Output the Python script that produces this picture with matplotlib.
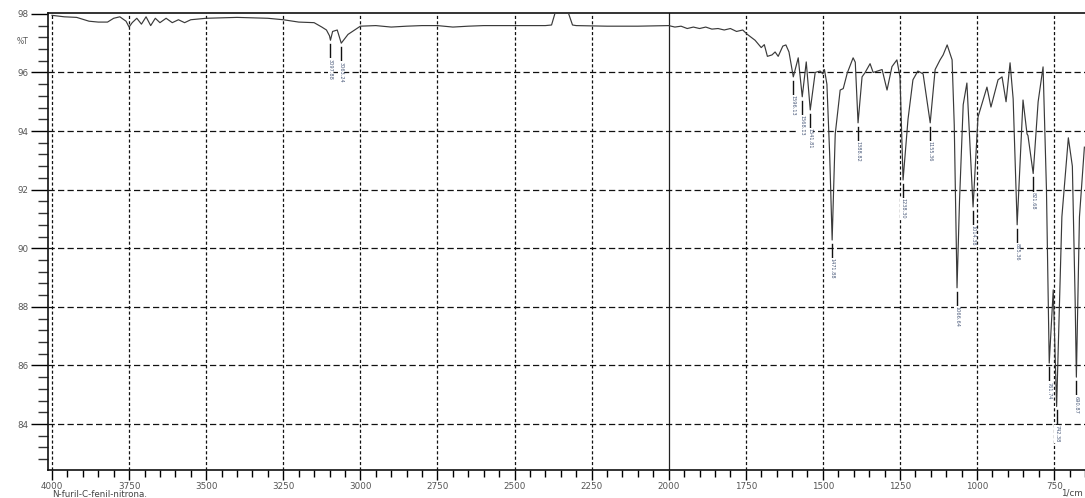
import matplotlib
matplotlib.use("Agg")
import matplotlib.pyplot as plt

# ---- spectrum data (wavenumber 1/cm, %T) ----
wavenumber = [4000, 3960, 3920, 3880, 3850, 3820, 3800, 3780, 3760, 3750, 3740, 3725,
              3710, 3695, 3680, 3665, 3650, 3630, 3610, 3590, 3570, 3550, 3530, 3500,
              3400, 3300, 3250, 3200, 3150, 3125, 3110, 3100, 3097, 3090, 3075, 3062,
              3040, 3000, 2950, 2900, 2850, 2800, 2750, 2700, 2650, 2600, 2500, 2400,
              2380, 2368, 2326, 2312, 2300, 2200, 2100, 2000, 1980, 1960, 1940, 1920,
              1900, 1880, 1860, 1840, 1820, 1800, 1780, 1760, 1745, 1720, 1700, 1690,
              1680, 1665, 1655, 1645, 1630, 1620, 1610, 1596, 1580, 1567, 1554, 1541,
              1525, 1509, 1500, 1495, 1487, 1478, 1470, 1464, 1460, 1444, 1434, 1421, 1402, 1395,
              1386, 1373, 1363, 1347, 1337, 1308, 1292, 1276, 1260, 1250, 1240, 1224,
              1208, 1192, 1175, 1152, 1136, 1120, 1110, 1097, 1081, 1074, 1065, 1057, 1045, 1033, 1013,
              997, 968, 955, 932, 919, 906, 893, 883, 870, 851, 838, 835, 818, 802,
              786, 775, 766, 753, 742, 725, 704, 691, 682, 678, 668, 652]
transmittance = [97.95, 97.9, 97.88, 97.75, 97.72, 97.72, 97.85, 97.9, 97.75, 97.55, 97.7, 97.85,
                 97.65, 97.9, 97.6, 97.85, 97.7, 97.85, 97.7, 97.8, 97.7, 97.8, 97.82, 97.85,
                 97.88, 97.85, 97.8, 97.72, 97.7, 97.55, 97.45, 97.25, 97.1, 97.4, 97.45, 97.0,
                 97.3, 97.58, 97.6, 97.55, 97.58, 97.6, 97.6, 97.55, 97.58, 97.6, 97.6, 97.6,
                 97.62, 98.05, 98.05, 97.62, 97.6, 97.58, 97.58, 97.6, 97.55, 97.58, 97.5, 97.55,
                 97.5, 97.55, 97.48, 97.5, 97.45, 97.5, 97.4, 97.45, 97.3, 97.1, 96.85, 96.95,
                 96.55, 96.6, 96.7, 96.55, 96.9, 96.94, 96.7, 95.85, 96.5, 95.17, 96.36, 94.72,
                 96.0, 96.05, 95.95, 96.1, 95.6, 93.2, 90.28, 92.4, 93.9, 95.4, 95.45, 95.98, 96.5, 96.35,
                 94.28, 95.85, 96.0, 96.3, 96.0, 96.1, 95.4, 96.2, 96.43, 95.85, 92.33, 94.4,
                 95.75, 96.05, 95.95, 94.28, 96.1, 96.43, 96.6, 96.94, 96.43, 94.2, 88.65, 91.6, 94.9, 95.64, 91.41,
                 94.48, 95.5, 94.82, 95.75, 95.85, 95.0, 96.33, 95.1, 90.8, 95.06, 93.9, 93.85, 92.55, 95.0,
                 96.19, 92.0, 86.08, 88.58, 84.6, 91.07, 93.77, 92.8, 88.24, 85.6, 91.07, 93.45]

# ---- labelled peaks ----
peak_wn = [3097, 3062, 1596, 1567, 1541, 1470, 1386, 1240, 1152, 1065, 1013, 870, 818, 766, 742, 678]
peak_t = [97.1, 97.0, 95.85, 95.17, 94.72, 90.28, 94.28, 92.33, 94.28, 88.65, 91.41, 90.8, 92.55, 86.08, 84.6, 85.6]
peak_labels = ["3097.88", "3063.24", "1596.13", "1568.13", "1541.81", "1471.88", "1388.82",
               "1238.30", "1155.36", "1066.64", "1014.38", "885.36", "821.68", "761.74",
               "742.38", "690.87"]

x_major = [4000, 3750, 3500, 3250, 3000, 2750, 2500, 2250, 2000, 1750, 1500, 1250, 1000, 750]
y_major = [84, 86, 88, 90, 92, 94, 96, 98]

W, H = 1085, 498
fig = plt.figure(figsize=(W / 100, H / 100), dpi=100)
left_px, right_px, top_px, bot_px = 48, 1085, 13, 470
ax = fig.add_axes([left_px / W, (H - bot_px) / H, (right_px - left_px) / W, (bot_px - top_px) / H])
ax.set_xlim(4013, 650)
ax.set_ylim(82.43, 98.03)

# grid
for x in x_major:
    if x == 2000:
        ax.axvline(x, color="#222", lw=0.9, zorder=1)
    else:
        ax.axvline(x, color="#111", lw=0.9, ls=(0, (2.5, 1.8)), zorder=1)
for y in y_major[:-1]:
    ax.axhline(y, color="#111", lw=0.9, ls=(0, (5, 2.6)), zorder=1)

ax.plot(wavenumber, transmittance, color="#3a3a3a", lw=0.85, zorder=3)

# peak markers and labels
for w, t, lab in zip(peak_wn, peak_t, peak_labels):
    ax.plot([w, w], [t - 0.13, t - 0.6], color="#111", lw=1.0, zorder=4)
    ax.text(w, t - 0.63, lab, rotation=270, ha="center", va="top", fontsize=3.6,
            color="#4a5a7a", zorder=5,
            bbox=dict(facecolor="white", edgecolor="none", pad=0.2))

ax.set_xticks(x_major)
ax.set_xticks(list(range(4000, 649, -50)), minor=True)
ax.set_yticks(y_major)
ax.set_yticks([82.8 + 0.4 * i for i in range(38)], minor=True)
ax.set_xticklabels([str(v) for v in x_major], fontsize=6.3, color="#555")
ax.set_yticklabels([str(v) for v in y_major], fontsize=6.3, color="#555")
ax.tick_params(axis="x", which="major", direction="out", length=7, width=1.0, pad=1.5)
ax.tick_params(axis="x", which="minor", direction="out", length=5, width=1.0)
ax.tick_params(axis="y", which="major", direction="out", length=12, width=1.0, pad=2)
ax.tick_params(axis="y", which="minor", direction="out", length=7, width=1.0, color="#333")

ax.spines["right"].set_visible(False)
for s in ("left", "bottom", "top"):
    ax.spines[s].set_linewidth(1.2)
    ax.spines[s].set_color("#111")

fig.text(17 / W, 1 - 42 / H, "%T", fontsize=5.5, color="#555", ha="left", va="center")
fig.text(52 / W, 1 - 494 / H, "N-furil-C-fenil-nitrona.", fontsize=6.3, color="#444",
         ha="left", va="center")
fig.text(1083 / W, 1 - 493 / H, "1/cm", fontsize=6.3, color="#444", ha="right", va="center")

fig.savefig("out.png", dpi=100)
